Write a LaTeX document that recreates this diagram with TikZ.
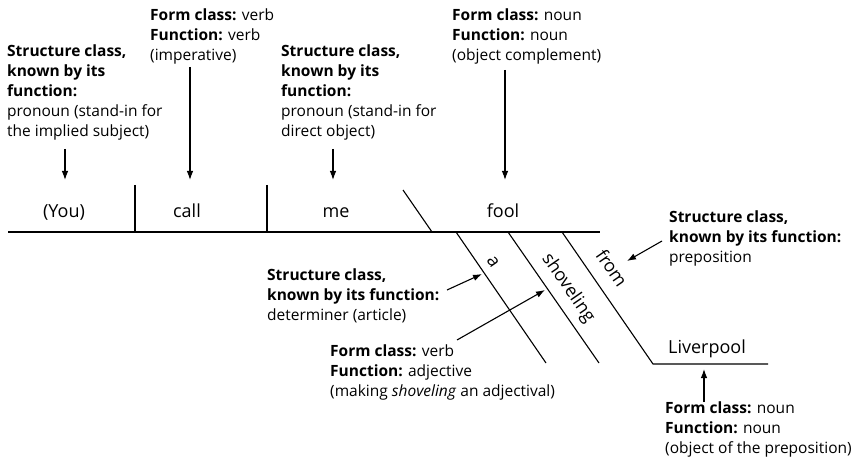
\documentclass[tikz,border=0pt]{standalone}
\usepackage{fontspec}
\setmainfont{Open Sans}
\usetikzlibrary{arrows.meta}

\begin{document}
\begin{tikzpicture}[x=1pt,y=-1pt,
	note/.style={anchor=north west,align=left,inner sep=0pt,font=\fontsize{15.5}{20}\selectfont},
	word/.style={anchor=base,inner sep=0pt,font=\fontsize{18}{22}\selectfont},
	slant/.style={inner sep=0pt,rotate=-55.4,font=\fontsize{18}{22}\selectfont},
	pointer/.style={-{Latex[length=9pt,width=6.5pt]},line width=1.1pt}]
	\useasboundingbox (0,0) rectangle (864,465);
	\draw[line width=2.6pt] (8,232) -- (600,232);
	\draw[line width=1.1pt] (135,185) -- (135,232);
	\draw[line width=1.1pt] (267,185) -- (267,232);
	\draw[line width=1.1pt] (403,190) -- (432,232);
	\draw[line width=1.1pt] (456,232) -- (546,363);
	\draw[line width=1.1pt] (508,232) -- (599,363);
	\draw[line width=1.1pt] (562,232) -- (653,364) -- (768,364);

	\node[word] (you) at (64,218) {(You)};
	\node[word] (call) at (187,218) {call};
	\node[word] (me) at (336,218) {me};
	\node[word] (fool) at (503,218) {fool};
	\node[word] (liv) at (707,353) {Liverpool};
	\node[slant] (a) at (493,262) {a};
	\node[slant] (shov) at (568,288) {shoveling};
	\node[slant] (from) at (612,268) {from};

	\node[note] (youinfo) at (7,45) {\textbf{Structure class,}\\\textbf{known by its}\\\textbf{function:}\\pronoun (stand-in for\\the implied subject)};
	\node[note] (callinfo) at (150,9) {\textbf{Form class:} verb\\\textbf{Function:} verb\\(imperative)};
	\node[note] (meinfo) at (281,45) {\textbf{Structure class,}\\\textbf{known by its}\\\textbf{function:}\\pronoun (stand-in for\\direct object)};
	\node[note] (foolinfo) at (452,9) {\textbf{Form class:} noun\\\textbf{Function:} noun\\(object complement)};
	\node[note] (frominfo) at (669,211) {\textbf{Structure class,}\\\textbf{known by its function:}\\preposition};
	\node[note] (ainfo) at (267,269) {\textbf{Structure class,}\\\textbf{known by its function:}\\determiner (article)};
	\node[note] (shovinfo) at (330,345) {\textbf{Form class:} verb\\\textbf{Function:} adjective\\(making \textit{shoveling} an adjectival)};
	\node[note] (livinfo) at (665,402) {\textbf{Form class:} noun\\\textbf{Function:} noun\\(object of the preposition)};

	\coordinate (youtail) at (65,149);
	\coordinate (youtip) at (65,180);
	\coordinate (calltail) at (190,67);
	\coordinate (calltip) at (190,180);
	\coordinate (metail) at (333,149);
	\coordinate (metip) at (333,180);
	\coordinate (fooltail) at (505,70);
	\coordinate (fooltip) at (505,180);
	\coordinate (fromtail) at (662,241);
	\coordinate (fromtip) at (627,261);
	\coordinate (atail) at (447,290);
	\coordinate (atip) at (482,274);
	\coordinate (shovtail) at (457,340);
	\coordinate (shovtip) at (545,290);
	\coordinate (livtail) at (704,402);
	\coordinate (livtip) at (704,369);

	\draw[pointer] (youtail) -- (youtip);
	\draw[pointer] (calltail) -- (calltip);
	\draw[pointer] (metail) -- (metip);
	\draw[pointer] (fooltail) -- (fooltip);
	\draw[pointer] (fromtail) -- (fromtip);
	\draw[pointer] (atail) -- (atip);
	\draw[pointer] (shovtail) -- (shovtip);
	\draw[pointer] (livtail) -- (livtip);
\end{tikzpicture}
\end{document}
